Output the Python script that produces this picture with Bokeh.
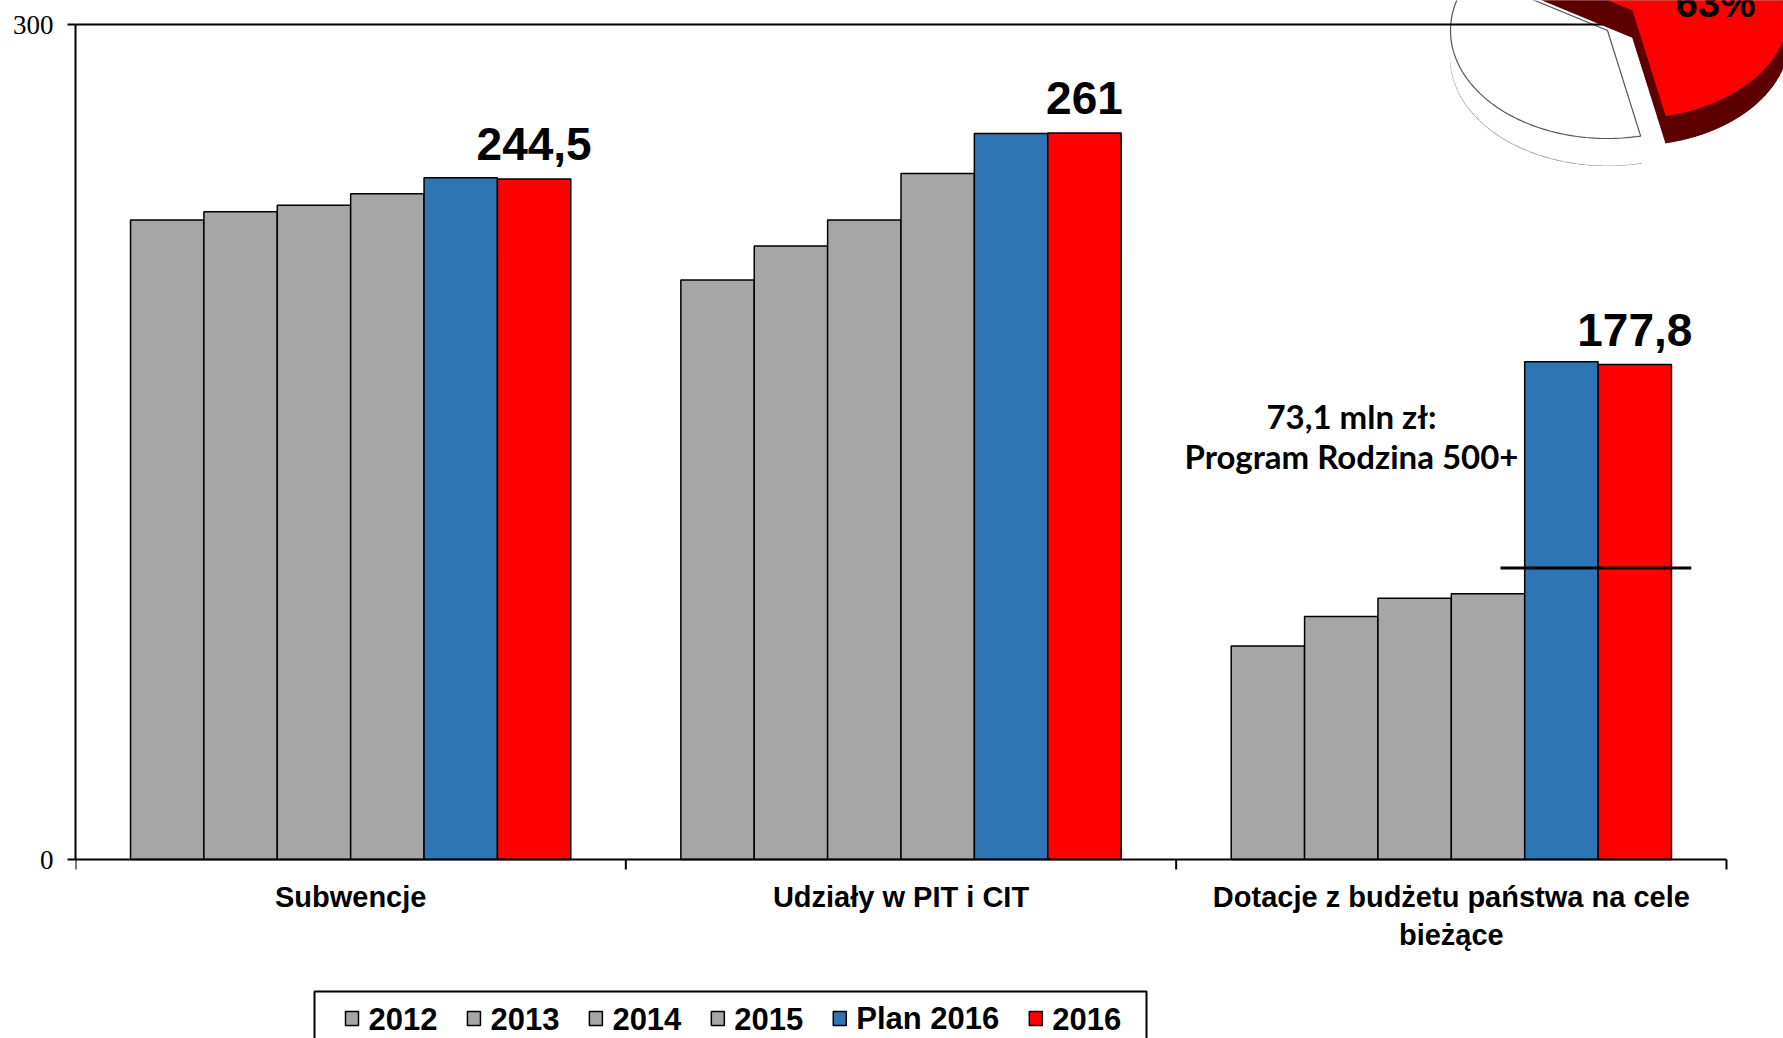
import math
from bokeh.plotting import figure
from bokeh.models import Range1d, FixedTicker
from bokeh.core.properties import value
from bokeh.embed import file_html
from bokeh.resources import INLINE

# ---------------- data ----------------
categories = ["Subwencje", "Udziały w PIT i CIT",
              "Dotacje z budżetu państwa na cele\nbieżące"]
series_names = ["2012", "2013", "2014", "2015", "Plan 2016", "2016"]
v2012 = [229.8, 208.2, 76.7]
v2013 = [232.7, 220.4, 87.3]
v2014 = [235.1, 229.8, 93.9]
v2015 = [239.2, 246.5, 95.5]
plan2016 = [244.9, 260.8, 178.8]
v2016 = [244.5, 261.0, 177.8]
rodzina500 = 73.1
rodzina_label = "mln zł:\nProgram Rodzina 500+"
y_ticks = [0, 300]
pie_labels = ["63%", ""]
pie_shares = [63, 37]

# ---------------- styles / layout ----------------
colors = ["#A6A6A6", "#A6A6A6", "#A6A6A6", "#A6A6A6", "#2E75B6", "#FF0000"]
W, H = 1783, 1038
frame_left = 75
zero_px = 859          # screen y of the value 0
top_px = 24            # screen y of the value 300
axis_px_per_x = 550.33
px_per_y = (zero_px - top_px) / (y_ticks[-1] - y_ticks[0])

p = figure(width=W, height=H, output_backend="svg", toolbar_location=None,
           x_range=Range1d(0, (W - frame_left) / axis_px_per_x),
           y_range=Range1d(-(H - zero_px) / px_per_y, y_ticks[-1] + top_px / px_per_y),
           min_border_left=frame_left, min_border_right=0,
           min_border_top=0, min_border_bottom=0)
p.outline_line_color = None
p.grid.visible = False
p.xaxis.visible = False
p.background_fill_color = "white"

# screen-pixel ranges for the decorative pie and the legend
p.extra_x_ranges = {"px": Range1d(frame_left, W)}
p.extra_y_ranges = {"py": Range1d(H, 0)}

ncat = len(categories)
nser = len(series_names)
bw = 0.8 / nser
all_series = [v2012, v2013, v2014, v2015, plan2016, v2016]

for j, (vals, col) in enumerate(zip(all_series, colors)):
    xs = [i + 0.1 + (j + 0.5) * bw for i in range(ncat)]
    p.vbar(x=xs, top=vals, width=bw, fill_color=col,
           line_color="black", line_width=1.5)

# x axis (drawn inside the frame)
p.segment(x0=[0], x1=[ncat], y0=[y_ticks[0]], y1=[y_ticks[0]],
          line_color="black", line_width=2)
p.segment(x0=list(range(ncat + 1)), x1=list(range(ncat + 1)),
          y0=[y_ticks[0]] * (ncat + 1), y1=[y_ticks[0] - 10 / px_per_y] * (ncat + 1),
          line_color="black", line_width=2)
p.text(x=[i + 0.5 for i in range(ncat)], y=[y_ticks[0]] * ncat, text=categories,
       text_align="center", text_baseline="top", y_offset=21,
       text_line_height=1.2,
       text_font=value("Liberation Sans"), text_font_style="bold",
       text_font_size="29px", text_color="black")

# value labels on the 2016 bars
def fmt(v):
    s = f"{v:.1f}".replace(".", ",")
    return s[:-2] if s.endswith(",0") else s

xs16 = [i + 0.1 + (nser - 0.5) * bw for i in range(ncat)]
p.text(x=xs16, y=v2016, text=[fmt(v) for v in v2016],
       text_align="center", text_baseline="bottom", y_offset=-19,
       text_font=value("Liberation Sans"), text_font_style="bold",
       text_font_size="46px", text_color="black")

# Rodzina 500+ marker line and annotation
p.segment(x0=[2 + 0.1 + 4 * bw - 0.044], x1=[2 + 0.1 + 6 * bw + 0.036],
          y0=[v2016[2] - rodzina500], y1=[v2016[2] - rodzina500],
          line_color="black", line_width=3)
p.text(x=[2.3186], y=[152.0], text=[fmt(rodzina500) + " " + rodzina_label],
       text_align="center", text_baseline="middle", text_line_height=1.0,
       text_font=value("Lato"), text_font_style="bold",
       text_font_size="33px", text_color="black")

# ---------------- decorative 3D pie (top-right) ----------------
pie_a, pie_b, pie_d = 157, 108, 27
pie_vertices = [(1632, 10), (1607, 30)]
theta0 = 282.2
angles = []
t = theta0
for s in pie_shares:
    angles.append((t, t + 360 * s / sum(pie_shares)))
    t += 360 * s / sum(pie_shares)

def slice_outline(vx, vy, t1, t2, n=80):
    xs, ys = [vx], [vy]
    for k in range(n + 1):
        th = math.radians(t1 + (t2 - t1) * k / n)
        xs.append(vx + pie_a * math.cos(th))
        ys.append(vy - pie_b * math.sin(th))
    return xs, ys

def draw_slice(idx, top_fill, side_fill, line_col):
    vx, vy = pie_vertices[idx]
    t1, t2 = angles[idx]
    xs, ys = slice_outline(vx, vy, t1, t2)
    bys = [y + pie_d for y in ys]
    p.patch(xs, bys, x_range_name="px", y_range_name="py",
            fill_color=side_fill, line_color=line_col, line_width=1.2)
    qx, qy = [], []
    m = len(xs)
    for k in range(m):
        k2 = (k + 1) % m
        qx.append([xs[k], xs[k2], xs[k2], xs[k]])
        qy.append([ys[k], ys[k2], bys[k2], bys[k]])
    p.patches(qx, qy, x_range_name="px", y_range_name="py",
              fill_color=side_fill, line_color=side_fill, line_width=0.5)
    p.patch(xs, ys, x_range_name="px", y_range_name="py",
            fill_color=top_fill, line_color=line_col, line_width=1.2)

draw_slice(1, "white", "white", "#555555")

# frame top line at 300
p.segment(x0=[0], x1=[ncat], y0=[y_ticks[-1]], y1=[y_ticks[-1]],
          line_color="black", line_width=2)

draw_slice(0, "#FF0000", "#5C0000", None)
p.text(x=[1715], y=[24], text=[pie_labels[0]], x_range_name="px",
       y_range_name="py", text_align="center", text_baseline="bottom",
       text_font=value("Liberation Sans"), text_font_style="bold",
       text_font_size="40px", text_color="black")

# ---------------- y axis ----------------
ya = p.yaxis[0]
ya.ticker = FixedTicker(ticks=y_ticks, minor_ticks=[])
ya.bounds = (y_ticks[0], y_ticks[-1])
ya.axis_line_color = "black"
ya.axis_line_width = 2
ya.major_tick_out = 8
ya.major_tick_in = 0
ya.major_tick_line_color = "black"
ya.major_tick_line_width = 2
ya.major_label_standoff = 14
ya.major_label_text_font = "Liberation Serif"
ya.major_label_text_font_size = "27px"
ya.major_label_text_color = "black"

# ---------------- legend (drawn manually, in screen pixels) ----------------
legend_left, legend_right, legend_top = 314, 1146, 991
p.quad(left=[legend_left], right=[legend_right], top=[legend_top], bottom=[H + 10],
       x_range_name="px", y_range_name="py",
       fill_color="white", line_color="black", line_width=2)

leg_font_px = 31
char_w = {"P": 0.667, "l": 0.278, "a": 0.556, "n": 0.611, " ": 0.278}
def text_width(s):
    return sum(char_w.get(c, 0.556) for c in s) * leg_font_px

sw_w, sw_h, sw_gap, item_gap = 13, 14, 10, 30
leg_cy = 1018
x = 345
sw_l, sw_r, lab_x = [], [], []
for n in series_names:
    sw_l.append(x)
    sw_r.append(x + sw_w)
    lab_x.append(x + sw_w + sw_gap)
    x += sw_w + sw_gap + text_width(n) + item_gap
p.quad(left=sw_l, right=sw_r, top=[leg_cy - sw_h / 2] * nser,
       bottom=[leg_cy + sw_h / 2] * nser, x_range_name="px", y_range_name="py",
       fill_color=colors, line_color="black", line_width=1.5)
p.text(x=lab_x, y=[leg_cy] * nser, text=series_names,
       x_range_name="px", y_range_name="py",
       text_align="left", text_baseline="middle",
       text_font=value("Liberation Sans"), text_font_style="bold",
       text_font_size=f"{leg_font_px}px", text_color="black")

open("out.html", "w").write(file_html(p, INLINE))
